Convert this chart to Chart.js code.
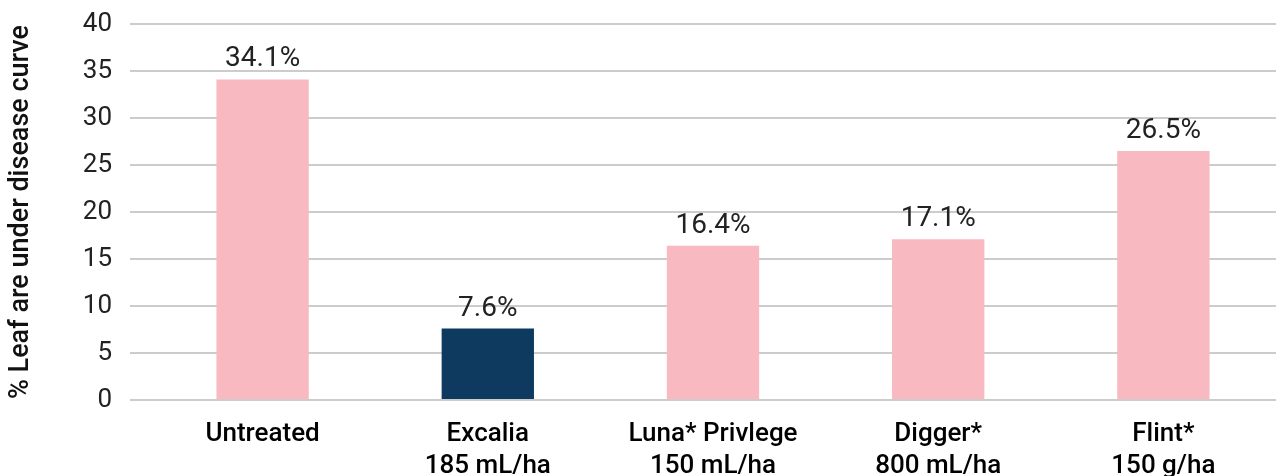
<!DOCTYPE html>
<html>
<head>
<meta charset="utf-8">
<script src="https://cdn.jsdelivr.net/npm/chart.js@4"></script>
<style>
  html, body { margin: 0; padding: 0; background: #fff; }
  #wrap { width: 1276px; height: 476px; }
</style>
</head>
<body>
<div id="wrap"><canvas id="chart"></canvas></div>
<script>
const categories = [
    ['Untreated'],
    ['Excalia', '185 mL/ha'],
    ['Luna* Privlege', '150 mL/ha'],
    ['Digger*', '800 mL/ha'],
    ['Flint*', '150 g/ha']
];
const leafAreaValues = [34.1, 7.6, 16.4, 17.1, 26.5];
const valueLabels = ['34.1%', '7.6%', '16.4%', '17.1%', '26.5%'];
const barColours = ['#F9B9C0', '#0E3A5F', '#F9B9C0', '#F9B9C0', '#F9B9C0'];

// draws the % text above each bar
const valueLabelPlugin = {
    id: 'valueLabels',
    afterDatasetsDraw(chart) {
        const ctx = chart.ctx;
        const meta = chart.getDatasetMeta(0);
        ctx.save();
        ctx.font = '28px Roboto';
        ctx.fillStyle = '#222';
        ctx.textAlign = 'center';
        ctx.textBaseline = 'bottom';
        meta.data.forEach((bar, i) => {
            ctx.fillText(valueLabels[i], bar.x, bar.y - 6);
        });
        ctx.restore();
    }
};

Chart.defaults.font.family = 'Roboto';

new Chart(document.getElementById('chart'), {
    type: 'bar',
    data: {
        labels: categories,
        datasets: [{
            data: leafAreaValues,
            backgroundColor: barColours,
            categoryPercentage: 1,
            barPercentage: 0.41
        }]
    },
    options: {
        responsive: true,
        maintainAspectRatio: false,
        animation: false,
        layout: { padding: { top: 24, right: 0, left: 0, bottom: 0 } },
        plugins: {
            legend: { display: false },
            tooltip: { enabled: false }
        },
        scales: {
            x: {
                grid: { display: false },
                border: { display: false },
                ticks: {
                    color: '#000',
                    padding: 11,
                    font: { size: 26, weight: 500, lineHeight: 1.23 },
                    maxRotation: 0,
                    autoSkip: false
                },
                afterFit(scale) {
                    scale.height = 76;
                    scale.paddingLeft = 0;
                    scale.paddingRight = 0;
                }
            },
            y: {
                min: 0,
                max: 40,
                ticks: {
                    stepSize: 5,
                    color: '#222',
                    padding: 18,
                    font: { size: 26 }
                },
                grid: { color: '#cccccc', lineWidth: 2, tickLength: 20 },
                border: { display: false },
                title: {
                    display: true,
                    text: '% Leaf are under disease curve',
                    color: '#111',
                    font: { size: 27, weight: 500 },
                    padding: { top: 5, bottom: 0 }
                },
                afterFit(scale) {
                    scale.width = 150;
                    scale.paddingTop = 0;
                    scale.paddingBottom = 0;
                }
            }
        }
    },
    plugins: [valueLabelPlugin]
});
</script>
</body>
</html>
